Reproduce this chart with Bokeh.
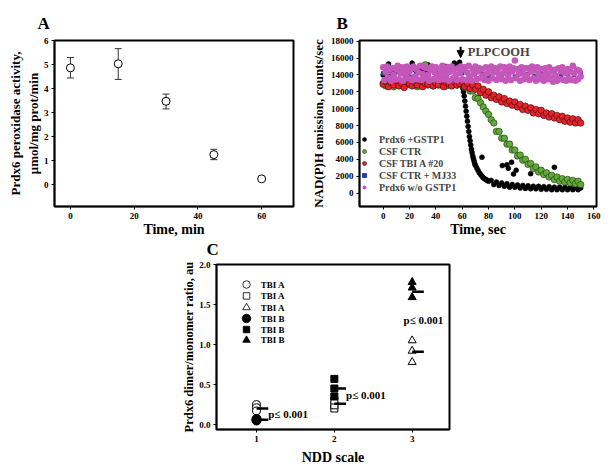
from bokeh.plotting import figure
from bokeh.models import (Whisker, TeeHead, Legend, LegendItem, FixedTicker, Label,
                          NumeralTickFormatter, Arrow, NormalHead, Range1d, Spacer, ColumnDataSource)
from bokeh.layouts import column, row
from bokeh.embed import file_html
from bokeh.resources import INLINE
from bokeh.core.properties import value

FONT = "Liberation Serif"

# ---------------- Panel A data ----------------
time_min = [0, 15, 30, 45, 60]
activity = [4.86, 5.03, 3.47, 1.25, 0.24]
activity_hi = [5.29, 5.66, 3.77, 1.47, 0.30]
activity_lo = [4.44, 4.38, 3.15, 1.04, 0.18]

# ---------------- Panel B data ----------------
black_t = (list(range(0, 60, 2))
           + [60, 60.5, 61, 61.5, 62, 62.5, 63, 63.5, 64, 64.5, 65, 65.5, 66, 66.5, 67, 67.5,
              68, 68.5, 69, 69.5, 70, 71, 72, 73, 74, 75, 76, 77, 78, 79, 80]
           + list(range(82, 152, 2))
           + [75, 90.5, 94, 95, 97.5, 99, 101, 112, 130])
black_y = ([14000, 14600, 15300, 14500, 14800, 14400, 14700, 14500, 14900, 14300,
            14700, 15400, 14600, 14800, 14400, 14700, 14500, 15200, 14600, 14800,
            14400, 14700, 14500, 14800, 15000, 14600, 14800, 15400, 15100, 15500]
           + [12800, 12400, 12000, 11500, 10900, 10300, 9700, 9100, 8500, 7900, 7300, 6700,
              6200, 5700, 5200, 4800, 4400, 4100, 3800, 3500, 3300, 3000, 2700, 2400, 2200,
              2000, 1800, 1700, 1600, 1500, 1400]
           + [1500, 1000, 1300, 900, 1200, 800, 1100, 700, 1000, 700, 950, 600, 900, 550,
              850, 500, 800, 500, 800, 450, 750, 450, 750, 400, 700, 400, 700, 400, 700,
              400, 650, 400, 650, 400, 600]
           + [4250, 3250, 3350, 2950, 3650, 2250, 2700, 2300, 3050])

green_t = list(range(0, 152, 2))
green_y = ([13000, 12700, 13200, 12900, 12600, 13100, 12800, 13000, 12700, 13200,
            12900, 12800, 13100, 12600, 12900, 13200, 15200, 12800, 13000, 12700,
            13100, 12900, 12800, 13200, 12700, 13000, 12900, 13100, 12800, 13000]
           + [13100, 12500, 12800, 12100, 12100, 11300, 11200, 10700, 10200, 9700, 9300,
              8700, 8300, 7300, 7300, 6500, 6500, 5800, 5800, 5100, 5100, 4400, 4500, 3900,
              4000, 3400, 3500, 2900, 3100, 2500, 2700, 2200, 2400, 1900, 2100, 1600, 1900,
              1400, 1700, 1300, 1600, 1200, 1500, 1100, 1400, 1000])

red_t = list(range(0, 152, 2))
red_y = ([12900, 13200, 12600, 13100, 12800, 13300, 12700, 13000, 12500, 13200,
          12900, 12700, 13100, 12800, 13300, 12600, 13000, 12900, 13200, 12700,
          13000, 12800, 13300, 12600, 13100, 12900, 12700, 13200, 12800, 13000]
         + [13200, 12600, 13000, 12400, 12800, 12300, 12700, 11900, 12300, 11600, 12000,
            11300, 11600, 11100, 11400, 10800, 11200, 10600, 10900, 10400, 10800, 10200,
            10500, 9900, 10300, 9800, 10100, 9500, 9900, 9400, 9800, 9200, 9500, 9000,
            9400, 8900, 9200, 8700, 9100, 8500, 8900, 8400, 8800, 8300, 8700, 8300])

blue_t = list(range(0, 155, 5))
blue_y = [14200, 13900, 14400, 14100, 13800, 14300, 14000, 14500, 14100, 13900, 14300,
          14000, 14200, 13800, 14400, 14100, 13900, 14300, 14000, 14200, 13800, 14400,
          14100, 13900, 14200, 14000, 14300, 13900, 14100, 14000, 14200]

purple_t = list(range(0, 151))
purple_y = [14900, 13400, 14300, 15000, 13600, 14600, 13300, 14800, 14000, 13500,
            14700, 15100, 13500, 14200, 14900, 13300, 14500, 13900, 15000, 13600,
            14400, 14800, 13400, 15000, 13800, 14700, 13500, 14300, 15100, 13400,
            14100, 14900, 13600, 14800, 14000, 13300, 14600, 15000, 13500, 14300,
            14900, 13800, 13400, 14700, 14100, 15100, 13500, 14500, 13900, 14900,
            13300, 14400, 15000, 13600, 14700, 14000, 13400, 14800, 14200, 15000,
            13500, 14600, 14900, 13400, 14300, 15100, 13800, 13300, 14700, 14100,
            15000, 13500, 14400, 14800, 13600, 14700, 13900, 13400, 14900, 14200,
            13300, 14600, 15000, 13600, 14300, 14800, 13400, 14700, 14000, 15000,
            13500, 14200, 14900, 13300, 14600, 13900, 15000, 13400, 14400, 14800,
            15700, 13600, 14700, 14100, 13300, 14900, 14200, 13500, 14800, 13900,
            14800, 13400, 14400, 15000, 13600, 14600, 13300, 14900, 14100, 13500,
            14700, 13900, 13300, 14800, 14200, 13500, 14900, 13700, 14400, 13200,
            14600, 13900, 13300, 14800, 13500, 14400, 14900, 13400, 14200, 13300,
            14700, 13600, 14400, 13400, 15100, 14200, 13300, 14600, 13500, 14500, 13800]

legend_B = ["Prdx6 +GSTP1", "CSF CTR", "CSF TBI A #20", "CSF CTR + MJ33", "Prdx6 w/o GSTP1"]

# ---------------- Panel C data ----------------
tbiA_1 = [0.25, 0.21, 0.17]
tbiA_2 = [0.20, 0.24, 0.30]
tbiA_3 = [1.05, 0.92, 0.78]
tbiB_1 = [0.05, 0.06, 0.07]
tbiB_2 = [0.57, 0.45, 0.35]
tbiB_3 = [1.78, 1.71, 1.59]
mean_ndd = [1, 2, 3]
mean_A = [0.20, 0.26, 0.91]
mean_B = [0.06, 0.45, 1.66]
legend_C = ["TBI A", "TBI A", "TBI A", "TBI B", "TBI B", "TBI B"]
p_text = "p\u2264 0.001"


def style(p, xticks, yticks, yfmt=None):
    p.outline_line_color = "black"
    p.outline_line_width = 2
    p.xgrid.visible = False
    p.ygrid.visible = False
    p.background_fill_color = "white"
    p.xaxis.ticker = FixedTicker(ticks=xticks)
    p.yaxis.ticker = FixedTicker(ticks=yticks)
    if yfmt:
        p.yaxis.formatter = NumeralTickFormatter(format=yfmt)
    for ax in (p.xaxis[0], p.yaxis[0]):
        ax.axis_line_color = "black"
        ax.axis_line_width = 1.5
        ax.major_tick_in = 0
        ax.major_tick_out = 3
        ax.major_tick_line_color = "black"
        ax.minor_tick_line_color = None
        ax.major_label_text_font = FONT
        ax.major_label_text_font_style = "bold"
        ax.major_label_text_font_size = "9px"
        ax.major_label_text_color = "black"
        ax.axis_label_text_font = FONT
        ax.axis_label_text_font_style = "bold"
        ax.axis_label_text_color = "black"
        ax.major_label_standoff = 3
        ax.axis_label_standoff = 0


def letter(p, txt, offset, standoff):
    p.title.text = txt
    p.title.align = "left"
    p.title.vertical_align = "top"
    p.title.offset = offset
    p.title.standoff = standoff
    p.title.text_font = FONT
    p.title.text_font_style = "bold"
    p.title.text_font_size = "17px"
    p.title.text_color = "black"


# ================= Panel A =================
pA = figure(width=305, height=245, output_backend="svg", toolbar_location=None,
            x_range=Range1d(-5, 70), y_range=Range1d(-0.91, 6.0),
            min_border_left=54, min_border_right=12, min_border_top=44, min_border_bottom=34,
            margin=(-4, 0, 0, 0))
style(pA, [0, 20, 40, 60], [0, 1, 2, 3, 4, 5, 6])
pA.border_fill_color = "white"
pA.xaxis.axis_label = "Time, min"
pA.xaxis.axis_label_text_font_size = "14px"
pA.yaxis.axis_label = "Prdx6 peroxidase activity,\n\u03bcmol/mg prot/min"
pA.yaxis.axis_label_text_font_size = "13px"
srcA = ColumnDataSource(dict(t=time_min, v=activity, hi=activity_hi, lo=activity_lo))
wh = Whisker(source=srcA, base="t", upper="hi", lower="lo", line_color="#333333", line_width=1,
             upper_head=TeeHead(size=7, line_color="#333333", line_width=1),
             lower_head=TeeHead(size=7, line_color="#333333", line_width=1), level="underlay")
pA.add_layout(wh)
pA.scatter("t", "v", source=srcA, marker="circle", size=8, fill_color="white",
           line_color="black", line_width=1)
letter(pA, "A", -17, 12)

# ================= Panel B =================
pB = figure(width=299, height=245, output_backend="svg", toolbar_location=None,
            x_range=Range1d(-18, 162), y_range=Range1d(-1595, 18080),
            min_border_left=54, min_border_right=8, min_border_top=41, min_border_bottom=35,
            margin=(-4, 0, 0, 0))
style(pB, list(range(0, 180, 20)), list(range(0, 20000, 2000)))
pB.border_fill_color = "white"
pB.xaxis.axis_label = "Time, sec"
pB.xaxis.axis_label_text_font_size = "14px"
pB.yaxis.axis_label = "NAD(P)H emission, counts/sec"
pB.yaxis.axis_label_text_font_size = "13px"
pB.yaxis.axis_label_standoff = 2

r_black = pB.scatter(black_t, black_y, marker="circle", size=5, fill_color="black",
                     line_color="black", line_width=0.5)
r_green = pB.scatter(green_t, green_y, marker="circle", size=6.5, fill_color="#62a83a",
                     line_color="#1f3a10", line_width=0.6)
r_red = pB.scatter(red_t, red_y, marker="circle", size=6.5, fill_color="#e3242b",
                   line_color="#3a0a0a", line_width=0.6)
r_blue = pB.scatter(blue_t, blue_y, marker="square", size=3.5, fill_color="#2b3f9e",
                    line_color="#2b3f9e")
r_purple = pB.scatter(purple_t, purple_y, marker="circle", size=6.5, fill_color="#c457b9",
                      line_color=None)
legB = Legend(items=[LegendItem(label=l, renderers=[r]) for l, r in
                     zip(legend_B, [r_black, r_green, r_red, r_blue, r_purple])],
              location=(0, 13), border_line_color=None, background_fill_alpha=0,
              label_text_font=FONT, label_text_font_style="bold", label_text_font_size="10px",
              glyph_width=10, glyph_height=12, label_height=12, spacing=0, padding=0,
              margin=0, label_standoff=10)
pB.add_layout(legB)
pB.add_layout(Arrow(x_start=58.8, y_start=17350, x_end=58.8, y_end=16050, line_width=2,
                    line_color="black",
                    end=NormalHead(size=7, fill_color="black", line_color="black")))
pB.add_layout(Label(x=64.3, y=16680, text="PLPCOOH", text_font=FONT, text_font_style="bold",
                    text_font_size="12.5px", text_baseline="middle", text_align="left"))
letter(pB, "B", -23, 12)

# ================= Panel C =================
pC = figure(width=281, height=255, output_backend="svg", toolbar_location=None,
            x_range=Range1d(0.485, 3.48), y_range=Range1d(-0.0625, 2.0),
            min_border_left=38, min_border_right=10, min_border_top=51, min_border_bottom=39,
            margin=(-28, 0, 0, 0))
style(pC, [1, 2, 3], [0, 0.5, 1.0, 1.5, 2.0], yfmt="0.0")
pC.border_fill_alpha = 0
pC.xaxis.axis_label = "NDD scale"
pC.xaxis.axis_label_text_font_size = "14px"
pC.xaxis.axis_label_standoff = 5
pC.yaxis.axis_label = "Prdx6 dimer/monomer ratio, au"
pC.yaxis.axis_label_text_font_size = "12.5px"
letter(pC, "C", -10, 8)

cfg = [("circle", 8, "white", tbiA_1, 1), ("square", 7, "white", tbiA_2, 2),
       ("triangle", 8, "white", tbiA_3, 3), ("circle", 9, "black", tbiB_1, 1),
       ("square", 7, "black", tbiB_2, 2), ("triangle", 8, "black", tbiB_3, 3)]
for mk, sz, fc, vals, nd in cfg:
    pC.scatter([nd] * len(vals), vals, marker=mk, size=sz, fill_color=fc,
               line_color="black", line_width=1)
pC.segment(x0=mean_ndd, y0=mean_A, x1=[n + 0.15 for n in mean_ndd], y1=mean_A,
           line_color="black", line_width=2.5)
pC.segment(x0=mean_ndd, y0=mean_B, x1=[n + 0.15 for n in mean_ndd], y1=mean_B,
           line_color="black", line_width=2.5)
pC.text(x=[1.15, 2.15, 2.89], y=[0.13, 0.37, 1.31], text=[p_text] * 3,
        text_font=value(FONT), text_font_style="bold", text_font_size="11px",
        text_baseline="middle", text_align="left")

# legend of panel C
leg_x = 0.871
leg_rows = [1.75, 1.607, 1.462, 1.325, 1.187, 1.054]
for (mk, sz, fc, _, _), yy in zip(cfg, leg_rows):
    pC.scatter([leg_x], [yy], marker=mk, size=sz - 0.5, fill_color=fc,
               line_color="black", line_width=0.8)
pC.text(x=[1.055] * 6, y=leg_rows, text=legend_C, text_font=value(FONT),
        text_font_style="bold", text_font_size="9px", text_baseline="middle",
        text_align="left")

layout = column(row(pA, pB), row(Spacer(width=178, height=227), pC))
open("out.html", "w").write(file_html(layout, INLINE))
